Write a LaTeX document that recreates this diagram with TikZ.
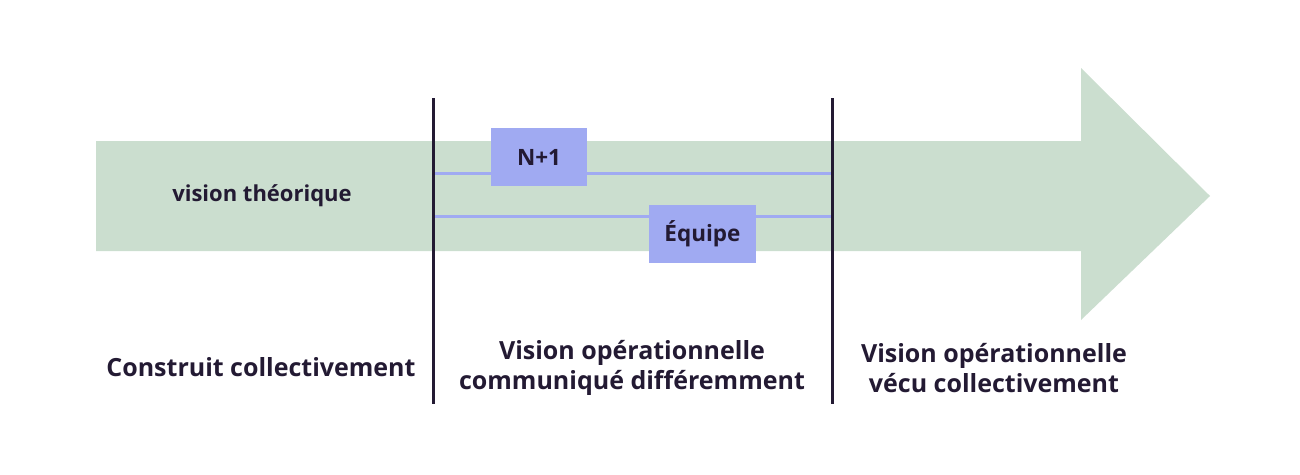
\documentclass[tikz,border=0pt]{standalone}
\usepackage{fontspec}
\setmainfont{Open Sans}[Ligatures=NoCommon]
\begin{document}
\definecolor{shaft}{HTML}{CBDECF}
\definecolor{tagblue}{HTML}{A0AAF2}
\definecolor{ink}{HTML}{231A33}
\begin{tikzpicture}[x=1pt,y=-1pt,
  divider/.style={draw=ink,line width=3pt},
  track/.style={draw=tagblue,line width=3pt},
  tag/.style={fill=tagblue,draw=none,inner sep=0pt,text=ink,font=\fontsize{22.5}{24}\selectfont\bfseries},
  caption/.style={text=ink,font=\fontsize{25}{30}\selectfont\bfseries,align=center,inner sep=0pt}]
\useasboundingbox (0,0) rectangle (1300,474);
% arrow
\fill[shaft] (96,141) -- (1081,141) -- (1081,68) -- (1210,196) -- (1081,320) -- (1081,251) -- (96,251) -- cycle;
% dividers
\coordinate (d1t) at (433,98); \coordinate (d1b) at (433,404);
\coordinate (d2t) at (832,98); \coordinate (d2b) at (832,404);
\coordinate (t1a) at (433,173); \coordinate (t1b) at (832,173);
\coordinate (t2a) at (433,216); \coordinate (t2b) at (832,216);
\draw[track] (t1a) -- (t1b);
\draw[track] (t2a) -- (t2b);
\path[divider] (d1t) -- (d1b);
\path[divider] (d2t) -- (d2b);
% tags
\node[tag,minimum width=96pt,minimum height=58pt] (n1) at (539,157) {N+1};
\node[tag,minimum width=107pt,minimum height=58pt] (eq) at (702.5,234) {Équipe};
% texts
\node[text=ink,font=\fontsize{22}{24}\selectfont\bfseries] (vt) at (262,196) {vision théorique};
\node[caption] (c1) at (261,367) {Construit collectivement};
\node[caption] (c2) at (632,368) {Vision opérationnelle\\communiqué différemment};
\node[caption] (c3) at (994,368) {Vision opérationnelle\\vécu collectivement};
\end{tikzpicture}
\end{document}
